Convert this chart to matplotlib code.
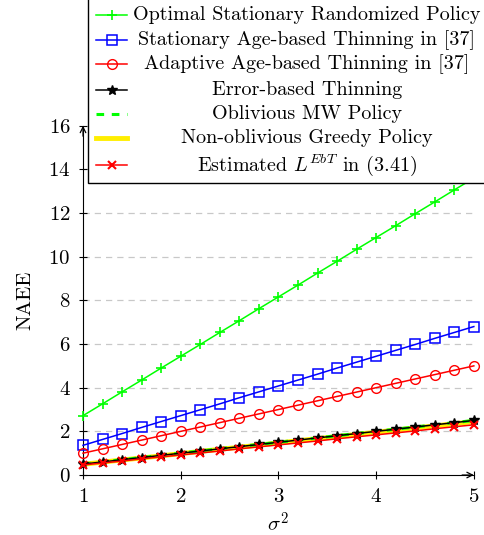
import numpy as np
import matplotlib
matplotlib.use("Agg")
import matplotlib.pyplot as plt
from matplotlib.lines import Line2D
from matplotlib.patches import Rectangle

plt.rcParams['font.family'] = ['cmr10', 'DejaVu Sans']
plt.rcParams['mathtext.fontset'] = 'cm'
plt.rcParams['axes.formatter.use_mathtext'] = True

## Daten
sigma2 = [1.0, 1.2, 1.4, 1.6, 1.8, 2.0, 2.2, 2.4, 2.6, 2.8, 3.0,
          3.2, 3.4, 3.6, 3.8, 4.0, 4.2, 4.4, 4.6, 4.8, 5.0]

optimal_srp = [2.72, 3.26, 3.81, 4.35, 4.90, 5.44, 5.98, 6.53, 7.07, 7.62, 8.16,
               8.70, 9.25, 9.79, 10.34, 10.88, 11.42, 11.97, 12.51, 13.06, 13.60]
stat_age = [1.36, 1.63, 1.90, 2.18, 2.45, 2.72, 2.99, 3.26, 3.54, 3.81, 4.08,
            4.35, 4.62, 4.90, 5.17, 5.44, 5.71, 5.98, 6.26, 6.53, 6.80]
adapt_age = [1.00, 1.20, 1.40, 1.60, 1.80, 2.00, 2.20, 2.40, 2.60, 2.80, 3.00,
             3.20, 3.40, 3.60, 3.80, 4.00, 4.20, 4.40, 4.60, 4.80, 5.00]
error_based = [0.50, 0.60, 0.70, 0.80, 0.90, 1.00, 1.10, 1.20, 1.30, 1.40, 1.50,
               1.60, 1.70, 1.80, 1.90, 2.00, 2.10, 2.20, 2.30, 2.40, 2.50]
oblivious_mw = [0.50, 0.60, 0.70, 0.80, 0.90, 1.00, 1.10, 1.20, 1.30, 1.40, 1.50,
                1.60, 1.70, 1.80, 1.90, 2.00, 2.10, 2.20, 2.30, 2.40, 2.50]
greedy = [0.49, 0.59, 0.69, 0.78, 0.88, 0.98, 1.08, 1.18, 1.27, 1.37, 1.47,
          1.57, 1.67, 1.76, 1.86, 1.96, 2.06, 2.16, 2.25, 2.35, 2.45]
estimated_ebt = [0.46, 0.55, 0.64, 0.74, 0.83, 0.92, 1.01, 1.10, 1.20, 1.29, 1.38,
                 1.47, 1.56, 1.66, 1.75, 1.84, 1.93, 2.02, 2.12, 2.21, 2.30]

labels = ['Optimal Stationary Randomized Policy',
          'Stationary Age-based Thinning in [37]',
          'Adaptive Age-based Thinning in [37]',
          'Error-based Thinning',
          'Oblivious MW Policy',
          'Non-oblivious Greedy Policy',
          r'Estimated $L^{EbT}$ in (3.41)']

yticks = [0, 2, 4, 6, 8, 10, 12, 14, 16]
xticks = [1, 2, 3, 4, 5]

## Stile
styles = [
    dict(color='#00ff00', marker='+', ms=7, mew=1.2, lw=1.1),
    dict(color='#0000ff', marker='s', ms=6.5, mfc='none', mew=1.1, lw=1.1),
    dict(color='#ff0000', marker='o', ms=7, mfc='none', mew=1.0, lw=1.1),
    dict(color='black', marker='*', ms=7.5, lw=1.1),
    dict(color='#00ff00', ls=(0, (2.5, 2.5)), lw=2.2),
    dict(color='#ffee00', lw=3.5),
    dict(color='#ff0000', marker='x', ms=5.5, mew=1.5, lw=1.1),
]
series = [optimal_srp, stat_age, adapt_age, error_based, oblivious_mw, greedy, estimated_ebt]
zorders = [3, 3, 3, 5, 4, 3, 6]

## Plotten
fig = plt.figure(figsize=(4.84, 5.35), dpi=100)
ax = fig.add_axes([0.1715, 0.1121, 0.8075, 0.6529])

for ys, st, z in zip(series, styles, zorders):
    ax.plot(sigma2, ys, zorder=z, clip_on=False, **st)

ax.set_xlim(1, 5)
ax.set_ylim(0, 16)
ax.set_xticks(xticks)
ax.set_yticks(yticks)
for yt in yticks[1:-1]:
    ax.axhline(yt, color='#c8c8c8', lw=0.9, ls=(0, (5, 4)), zorder=1)

ax.spines['top'].set_visible(False)
ax.spines['right'].set_visible(False)
ax.tick_params(direction='inout', length=6, width=0.8, labelsize=15, pad=6)
ax.set_xlabel(r'$\sigma^2$', fontsize=15, labelpad=4)
ax.set_ylabel('NAEE', fontsize=15, labelpad=10)

# Pfeile an den Achsenenden
ax.annotate('', xy=(1.0, 0), xytext=(0.97, 0), xycoords='axes fraction',
            arrowprops=dict(arrowstyle='->', lw=0.9, color='black', shrinkA=0, shrinkB=0))
ax.annotate('', xy=(0, 1.0), xytext=(0, 0.97), xycoords='axes fraction',
            arrowprops=dict(arrowstyle='->', lw=0.9, color='black', shrinkA=0, shrinkB=0))

# Legende (zentrierter Text wie bei pgfplots)
W, H = 484.0, 535.0
box = Rectangle((88 / W, 1 - 183 / H), 1.0, 1.0, transform=fig.transFigure,
                facecolor='white', edgecolor='black', lw=1.0, zorder=10, clip_on=False)
fig.patches.append(box)
row_y = [15, 40, 64, 90, 114, 138, 165]
for lab, st, ry in zip(labels, styles, row_y):
    yf = 1 - ry / H
    ln = Line2D([96 / W, 111.5 / W, 127 / W], [yf, yf, yf], transform=fig.transFigure,
                zorder=11, **st)
    if 'marker' in st:
        ln.set_markevery([1])
    fig.lines.append(ln)
    fig.text(307 / W, yf, lab, ha='center', va='center', fontsize=14.5, zorder=12)

fig.savefig('out.png', dpi=100)
